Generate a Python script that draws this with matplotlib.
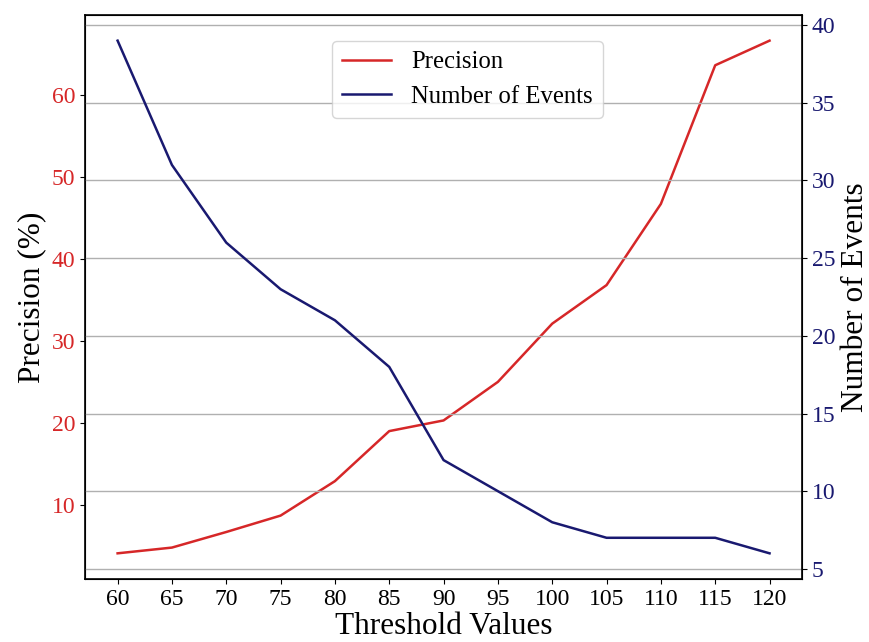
import matplotlib.pyplot as plt

plt.rcParams['font.family'] = ['Liberation Serif', 'DejaVu Serif']

thresholds = [60, 65, 70, 75, 80, 85, 90, 95, 100, 105, 110, 115, 120]
precision = [4.1, 4.8, 6.7, 8.7, 12.9, 19.0, 20.3, 25.0, 32.1, 36.8, 46.7, 63.6, 66.6]
events = [39, 31, 26, 23, 21, 18, 12, 10, 8, 7, 7, 7, 6]

red = '#d62728'
navy = '#191970'

fig = plt.figure(figsize=(8.7, 6.42), dpi=100)
ax1 = fig.add_axes([0.0977, 0.0982, 0.8243, 0.8784])
ax2 = ax1.twinx()

l1, = ax1.plot(thresholds, precision, color=red, lw=1.8, label='Precision')
l2, = ax2.plot(thresholds, events, color=navy, lw=1.8, label='Number of Events')

ax1.set_xticks(thresholds)
ax1.set_xlabel('Threshold Values', fontsize=22.5, labelpad=2)
ax1.set_ylabel('Precision (%)', fontsize=22.5)
ax2.set_ylabel('Number of Events', fontsize=22.5)

ax1.tick_params(axis='x', labelsize=17)
ax1.tick_params(axis='y', labelsize=17, labelcolor=red)
ax2.tick_params(axis='y', labelsize=17, labelcolor=navy)

ax2.grid(True, axis='y', color='#b0b0b0', lw=1)
for sp in ax2.spines.values():
    sp.set_linewidth(1.2)

ax2.legend([l1, l2], ['Precision', 'Number of Events'], loc='upper center',
           bbox_to_anchor=(0.533, 0.954), borderaxespad=0, fontsize=17.8)

fig.savefig('out.png', dpi=100)
